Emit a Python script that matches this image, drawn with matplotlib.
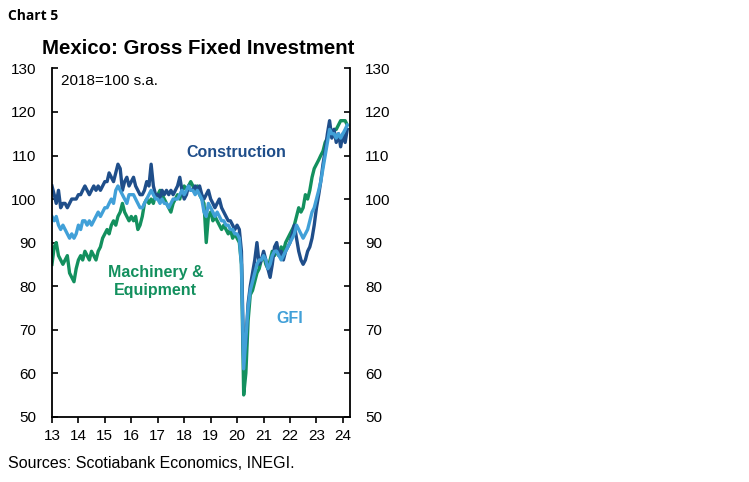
import matplotlib
matplotlib.use("Agg")
import matplotlib.pyplot as plt
import matplotlib.dates as mdates
import pandas as pd

# monthly index, 2018=100 s.a., Jan-2013 .. Mar-2024
construction = [
    103, 101, 99, 102, 98, 99, 99, 98, 99, 100, 100, 100,
    101, 101, 102, 103, 102, 101, 102, 103, 102, 103, 102, 103,
    104, 104, 106, 105, 104, 106, 108, 107, 102, 104, 105, 103,
    104, 105, 103, 102, 101, 101, 102, 104, 103, 108, 103, 101,
    101, 100, 102, 101, 102, 101, 102, 101, 102, 103, 105, 102,
    100, 101, 103, 102, 102, 103, 102, 103, 101, 100, 101, 102,
    100, 99, 98, 99, 100, 98, 97, 96, 95, 95, 94, 93,
    94, 93, 88, 63, 67, 76, 80, 83, 86, 90, 85, 86,
    88, 86, 84, 82, 85, 89, 90, 87, 88, 86, 88, 89,
    90, 92, 94, 91, 88, 86, 85, 86, 88, 89, 91, 94,
    98, 101, 104, 108, 111, 115, 118, 114, 116, 113, 115, 112,
    115, 113, 116,
]
gfi = [
    96, 95, 96, 94, 93, 94, 93, 92, 91, 92, 91, 92,
    94, 93, 95, 95, 94, 95, 94, 95, 96, 97, 96, 97,
    98, 98, 99, 100, 99, 102, 103, 102, 101, 100, 99, 101,
    101, 101, 100, 99, 98, 98, 99, 100, 101, 102, 101, 100,
    100, 99, 100, 99, 99, 98, 99, 100, 100, 100, 101, 102,
    101, 102, 103, 102, 102, 101, 102, 101, 100, 97, 96, 99,
    98, 97, 96, 97, 96, 95, 95, 94, 94, 93, 93, 92,
    92, 91, 85, 61, 68, 75, 79, 81, 83, 85, 86, 86,
    87, 86, 84, 85, 87, 88, 88, 87, 86, 87, 88, 89,
    90, 91, 92, 94, 93, 92, 91, 92, 93, 95, 97, 98,
    100, 102, 104, 107, 110, 113, 116, 115, 115, 114, 115, 114,
    115, 116, 117,
]
machinery = [
    85, 89, 90, 87, 86, 85, 86, 87, 83, 82, 81, 84,
    86, 87, 86, 88, 87, 86, 88, 87, 86, 88, 89, 91,
    92, 93, 92, 94, 95, 94, 96, 97, 99, 97, 96, 95,
    96, 95, 96, 93, 94, 96, 99, 100, 99, 100, 99, 101,
    101, 102, 101, 100, 99, 98, 97, 99, 100, 101, 100, 102,
    103, 102, 103, 104, 103, 102, 103, 101, 100, 99, 90, 96,
    97, 95, 96, 95, 94, 93, 94, 93, 92, 93, 91, 92,
    91, 90, 85, 55, 60, 72, 78, 79, 81, 83, 84, 86,
    87, 85, 84, 86, 88, 87, 88, 87, 89, 88, 90, 91,
    92, 93, 94, 96, 98, 97, 98, 101, 100, 102, 105, 107,
    108, 109, 110, 111, 113, 114, 116, 115, 116, 116, 117, 118,
    118, 118, 117,
]
dates = pd.date_range("2013-01-01", periods=len(gfi), freq="MS")
y_ticks = [50, 60, 70, 80, 90, 100, 110, 120, 130]

C_CONS = "#1f4e8a"
C_GFI = "#41a0d8"
C_MACH = "#13905e"

plt.rcParams["font.family"] = ["Liberation Sans", "DejaVu Sans"]

fig = plt.figure(figsize=(7.49, 4.82), dpi=100)
ax = fig.add_axes([0.069, 0.1355, 0.398, 0.7225])

ax.plot(dates, machinery, color=C_MACH, lw=2.4, solid_joinstyle="round")
ax.plot(dates, construction, color=C_CONS, lw=2.4, solid_joinstyle="round")
ax.plot(dates, gfi, color=C_GFI, lw=2.4, solid_joinstyle="round")

ax.set_ylim(50, 130)
ax.set_yticks(y_ticks)
ax.set_xlim(pd.Timestamp("2012-12-28"), pd.Timestamp("2024-04-05"))
ax.xaxis.set_major_locator(mdates.YearLocator())
ax.xaxis.set_major_formatter(mdates.DateFormatter("%y"))

ax.spines["top"].set_visible(False)
for s in ("left", "right", "bottom"):
    ax.spines[s].set_linewidth(1.3)
    ax.spines[s].set_color("black")
ax.tick_params(axis="y", which="both", direction="in", length=4, width=1.2,
               left=True, right=True, labelleft=True, labelright=True,
               labelsize=11, pad=11)
ax.tick_params(axis="x", direction="out", length=4, width=1.2,
               labelsize=11, pad=5)

ax.text(0.03, 0.985, "2018=100 s.a.", transform=ax.transAxes,
        fontsize=11, va="top", ha="left")
ax.text(pd.Timestamp("2018-02-01"), 110.8, "Construction", color=C_CONS,
        fontsize=11.5, fontweight="bold", ha="left", va="center")
ax.text(pd.Timestamp("2016-12-01"), 81, "Machinery &\nEquipment", color=C_MACH,
        fontsize=11.5, fontweight="bold", ha="center", va="center",
        linespacing=1.25)
ax.text(pd.Timestamp("2022-01-01"), 72.6, "GFI", color=C_GFI,
        fontsize=11.5, fontweight="bold", ha="center", va="center")

fig.text(198.5 / 749, 1 - 48 / 482, "Mexico: Gross Fixed Investment",
         fontsize=14.7, fontweight="bold", ha="center", va="center")
fig.text(8 / 749, 1 - 16 / 482, "Chart 5", fontsize=10, fontweight="bold",
         ha="left", va="center", family=["Open Sans", "DejaVu Sans"])
fig.text(8 / 749, 1 - 464 / 482, "Sources: Scotiabank Economics, INEGI.",
         fontsize=11.5, ha="left", va="center")

fig.savefig("out.png", dpi=100)
